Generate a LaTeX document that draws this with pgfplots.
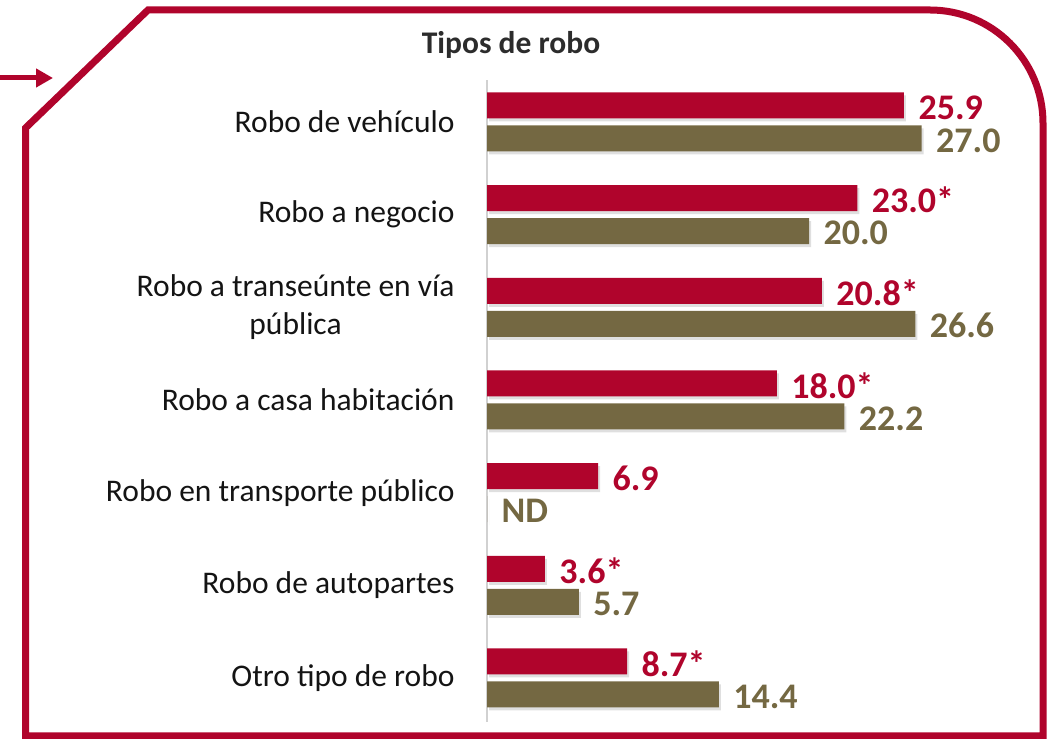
\documentclass[border=0pt]{standalone}
\usepackage{pgfplots}
\pgfplotsset{compat=1.18}
\usepackage{pgfplotstable}
\usepackage{fontspec}
\setmainfont{Carlito}
\usetikzlibrary{arrows.meta,shadows}
\definecolor{cRed}{RGB}{176,4,44}
\definecolor{cOlive}{RGB}{116,104,66}
\definecolor{cText}{RGB}{20,20,20}
\pgfplotstableread{
pos red redlab olive olivelab
6 25.9 25.9 27.0 27.0
5 23.0 23.0* 20.0 20.0
4 20.8 20.8* 26.6 26.6
3 18.0 18.0* 22.2 22.2
2 6.9 6.9 0 ND
1 3.6 3.6* 5.7 5.7
0 8.7 8.7* 14.4 14.4
}\datatable
\begin{document}
\begin{tikzpicture}[x=1pt,y=1pt]
\useasboundingbox (0,0) rectangle (1058,739);
% frame
\draw[cRed, line width=7pt, line join=miter]
  (25.5,3) -- (25.5,611) -- (148,729) -- (930,729)
  arc[start angle=90, end angle=0, radius=113] -- (1043,3) -- cycle;
% arrow
\draw[cRed, line width=5pt, -{Triangle[length=17pt,width=18pt]}] (0,661) -- (53,661);
% title
\node[font=\fontsize{31.5}{36}\selectfont\bfseries, text=cText!90] at (511,694) {Tipos de robo};
\begin{axis}[
  at={(487pt,17pt)}, anchor=south west,
  scale only axis, width=483pt, height=642pt,
  xmin=0, xmax=30, ymin=-0.475, ymax=6.453,
  xbar, bar width=26pt,
  axis x line=none,
  axis y line=left,
  y axis line style={-, draw=black!18, line width=2pt},
  major tick length=0pt,
  ytick={0,1,2,3,4,5,6},
  yticklabels={Otro tipo de robo, Robo de autopartes, Robo en transporte público, Robo a casa habitación, {Robo a transeúnte en vía\\pública}, Robo a negocio, Robo de vehículo},
  yticklabel style={font=\fontsize{31.5}{38}\selectfont, text=cText, align=center, xshift=-29pt},
  clip=false,
  point meta=explicit symbolic,
  nodes near coords={\pgfplotspointmeta},
  nodes near coords style={anchor=west, xshift=11pt, yshift=-2pt, font=\fontsize{36}{40}\selectfont\bfseries},
]
\addplot[fill=cRed, draw=none, bar shift=16.5pt, drop shadow={shadow xshift=2pt, shadow yshift=-3pt, opacity=0.25},
  nodes near coords style={text=cRed}]
  table[x=red, y=pos, meta=redlab] {\datatable};
\addplot[fill=cOlive, draw=none, bar shift=-16.5pt, drop shadow={shadow xshift=2pt, shadow yshift=-3pt, opacity=0.25},
  nodes near coords style={text=cOlive}]
  table[x=olive, y=pos, meta=olivelab] {\datatable};
\end{axis}
\end{tikzpicture}
\end{document}
